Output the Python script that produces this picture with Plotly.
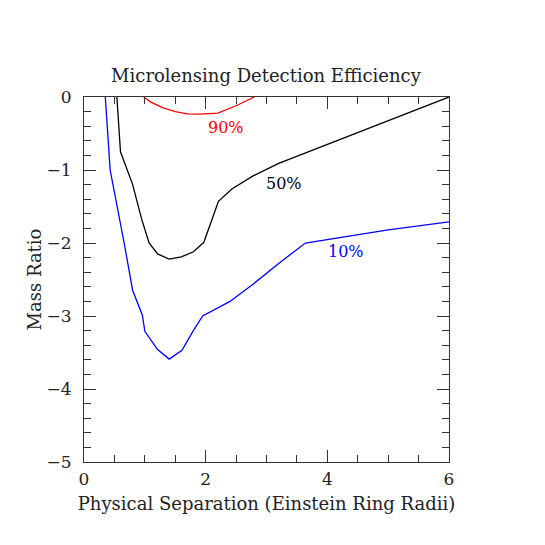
import plotly.graph_objects as go

# 10% efficiency contour
sep_10 = [0.35, 0.43, 0.66, 0.80, 0.96, 1.00, 1.21, 1.40, 1.61, 1.79, 1.95, 2.40, 2.80, 3.20, 3.64, 4.00, 5.00, 6.00]
mass_10 = [0.0, -1.0, -2.0, -2.65, -2.99, -3.21, -3.46, -3.59, -3.47, -3.21, -3.0, -2.80, -2.55, -2.28, -2.0, -1.95, -1.82, -1.71]

# 50% efficiency contour
sep_50 = [0.54, 0.60, 0.80, 0.95, 1.07, 1.21, 1.40, 1.60, 1.80, 1.97, 2.21, 2.43, 2.78, 3.20, 6.00]
mass_50 = [0.0, -0.75, -1.2, -1.68, -2.0, -2.15, -2.22, -2.19, -2.12, -1.99, -1.43, -1.26, -1.08, -0.91, 0.0]

# 90% efficiency contour
sep_90 = [0.98, 1.10, 1.30, 1.50, 1.70, 1.90, 2.20, 2.50, 2.80]
mass_90 = [0.0, -0.07, -0.15, -0.20, -0.23, -0.235, -0.22, -0.12, 0.0]

labels = ["90%", "50%", "10%"]
label_x = [2.33, 3.29, 4.31]
label_y = [-0.42, -1.18, -2.12]
colors = ["#ff0000", "#000000", "#0000ff"]

FONT = "DejaVu Serif"
# the page body adds an 8px offset, so margins are shifted by that amount
OFF = 8

fig = go.Figure()
for xs, ys, c in [(sep_10, mass_10, colors[2]), (sep_50, mass_50, colors[1]), (sep_90, mass_90, colors[0])]:
    fig.add_trace(go.Scatter(x=xs, y=ys, mode="lines", line={"color": c, "width": 1.3}, showlegend=False))

for t, x, y, c in zip(labels, label_x, label_y, colors):
    fig.add_annotation(x=x, y=y, text=t, showarrow=False, font={"family": FONT, "size": 16, "color": c})

axis_common = {
    "showgrid": False,
    "zeroline": False,
    "showline": True,
    "linecolor": "#333",
    "linewidth": 1,
    "mirror": "allticks",
    "ticks": "inside",
    "tickcolor": "#333",
    "tickfont": {"family": FONT, "size": 17, "color": "#222"},
    "title_font": {"family": FONT, "size": 18, "color": "#222"},
}

fig.update_layout(
    width=545,
    height=545,
    paper_bgcolor="white",
    plot_bgcolor="white",
    margin={"l": 84 - OFF, "r": 96 + OFF, "t": 97 - OFF, "b": 83 + OFF},
    title={
        "text": "Microlensing Detection Efficiency",
        "x": (84 - OFF + 182) / 545,
        "xanchor": "center",
        "y": 1 - (76 - OFF) / 545,
        "yanchor": "middle",
        "font": {"family": FONT, "size": 18, "color": "#222"},
    },
    xaxis={
        **axis_common,
        "range": [0, 6],
        "dtick": 2,
        "ticklen": 12,
        "ticklabelstandoff": 2,
        "minor": {"dtick": 0.5, "ticks": "inside", "ticklen": 7, "tickcolor": "#333"},
        "title": {"text": "Physical Separation (Einstein Ring Radii)", "standoff": 8},
    },
    yaxis={
        **axis_common,
        "range": [-5, 0],
        "dtick": 1,
        "ticklen": 12,
        "ticklabelstandoff": 8,
        "minor": {"dtick": 0.2, "ticks": "inside", "ticklen": 7, "tickcolor": "#333"},
        "title": {"text": "Mass Ratio", "standoff": 0},
    },
)

fig.write_html("out.html")
